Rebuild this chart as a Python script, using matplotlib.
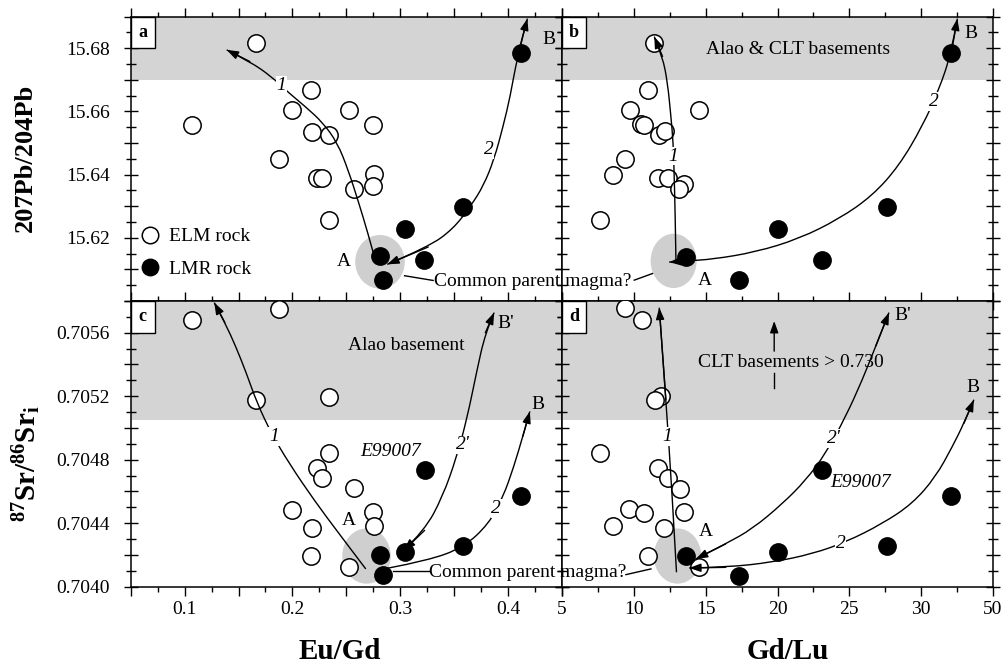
import matplotlib
matplotlib.use('Agg')
import matplotlib.pyplot as plt
from matplotlib.patches import Ellipse, Rectangle, PathPatch
from matplotlib.path import Path
from matplotlib.ticker import MultipleLocator, FuncFormatter

plt.rcParams['font.family'] = ['Liberation Serif', 'DejaVu Serif']
plt.rcParams['mathtext.fontset'] = 'custom'
plt.rcParams['mathtext.rm'] = 'Liberation Serif'
plt.rcParams['mathtext.bf'] = 'Liberation Serif:bold'
plt.rcParams['mathtext.it'] = 'Liberation Serif:italic'

# ---------------- DATA ----------------
# Panel a: Eu/Gd vs 207Pb/204Pb
a_elm_x = [0.166, 0.107, 0.217, 0.200, 0.252, 0.218, 0.234, 0.275, 0.188, 0.223, 0.227, 0.276, 0.275, 0.257, 0.234]
a_elm_y = [15.6816, 15.6558, 15.6667, 15.6604, 15.6604, 15.6536, 15.6525, 15.6558, 15.6449, 15.6388, 15.6388, 15.6401, 15.6365, 15.6356, 15.6258]
a_lmr_x = [0.412, 0.358, 0.304, 0.322, 0.281, 0.284]
a_lmr_y = [15.6784, 15.6297, 15.6228, 15.6129, 15.6142, 15.6066]

# Panel b: Gd/Lu vs 207Pb/204Pb
b_elm_x = [11.42, 10.96, 9.73, 14.55, 10.49, 10.73, 11.77, 12.19, 9.38, 8.57, 11.65, 12.35, 13.51, 13.16, 7.67]
b_elm_y = [15.6818, 15.6669, 15.6606, 15.6604, 15.6559, 15.6556, 15.6527, 15.6538, 15.6449, 15.6399, 15.6388, 15.6388, 15.6370, 15.6356, 15.6258]
b_lmr_x = [32.1, 27.6, 20.04, 23.13, 13.62, 17.29]
b_lmr_y = [15.6786, 15.6299, 15.6228, 15.6129, 15.6139, 15.6066]

# Panel c: Eu/Gd vs 87Sr/86Sr_i
c_elm_x = [0.107, 0.188, 0.166, 0.234, 0.234, 0.223, 0.227, 0.257, 0.200, 0.275, 0.218, 0.276, 0.217, 0.252]
c_elm_y = [0.705678, 0.705748, 0.705174, 0.705195, 0.704840, 0.704745, 0.704682, 0.704623, 0.704486, 0.704471, 0.704372, 0.704382, 0.704196, 0.704122]
c_lmr_x = [0.323, 0.412, 0.358, 0.304, 0.281, 0.284]
c_lmr_y = [0.704735, 0.704570, 0.704255, 0.704217, 0.704200, 0.704074]

# Panel d: Gd/Lu vs 87Sr/86Sr_i
d_elm_x = [9.40, 10.56, 11.88, 11.49, 7.67, 11.65, 12.35, 13.21, 9.64, 10.73, 13.51, 8.57, 12.12, 10.96, 14.55]
d_elm_y = [0.705754, 0.705678, 0.705199, 0.705174, 0.704840, 0.704745, 0.704682, 0.704618, 0.704488, 0.704466, 0.704471, 0.704382, 0.704372, 0.704192, 0.704122]
d_lmr_x = [23.13, 32.1, 27.6, 20.04, 13.62, 17.29]
d_lmr_y = [0.704735, 0.704570, 0.704255, 0.704217, 0.704196, 0.704070]

# Trend curves (hand-drawn paths in the original)
a_c1_x = [0.2757, 0.2697, 0.2614, 0.2515, 0.2416, 0.2284, 0.2118, 0.1969, 0.1804, 0.1605, 0.1390]
a_c1_y = [15.6144, 15.6218, 15.6312, 15.6417, 15.6501, 15.6564, 15.6616, 15.6658, 15.6711, 15.6758, 15.6795]
a_c2_x = [0.2879, 0.3259, 0.3491, 0.3656, 0.3772, 0.3871, 0.3954, 0.4020, 0.4086, 0.4179]
a_c2_y = [15.6116, 15.6171, 15.6228, 15.6302, 15.6365, 15.6449, 15.6553, 15.6648, 15.6774, 15.6894]

b_c1_x = [12.93, 12.88, 12.81, 12.74, 12.58, 12.35, 12.00, 11.42]
b_c1_y = [15.6129, 15.6270, 15.6396, 15.6501, 15.6585, 15.6690, 15.6774, 15.6837]
b_c2_x = [12.46, 13.62, 15.48, 18.49, 21.5, 24.29, 26.6, 28.46, 30.08, 31.24, 32.1, 32.52]
b_c2_y = [15.6123, 15.6127, 15.6132, 15.6155, 15.6197, 15.6260, 15.6333, 15.6428, 15.6553, 15.6669, 15.6786, 15.6894]

c_c1_x = [0.2680, 0.2432, 0.2201, 0.1969, 0.1804, 0.1672, 0.1572, 0.1473, 0.1374, 0.1275]
c_c1_y = [0.704112, 0.704334, 0.704545, 0.704777, 0.704967, 0.705157, 0.705347, 0.705516, 0.705663, 0.705790]
c_c2p_x = [0.3031, 0.3226, 0.3392, 0.3524, 0.3623, 0.3706, 0.3789, 0.3871]
c_c2p_y = [0.704228, 0.704355, 0.704566, 0.704819, 0.705072, 0.705347, 0.705600, 0.705727]
c_c2_x = [0.2879, 0.3259, 0.3590, 0.3822, 0.3954, 0.4053, 0.4136, 0.4202]
c_c2_y = [0.704116, 0.704165, 0.704249, 0.704397, 0.704566, 0.704756, 0.704946, 0.705104]

d_c1_x = [12.97, 12.65, 12.23, 11.77]
d_c1_y = [0.704091, 0.704608, 0.705178, 0.705758]
d_c2p_x = [14.32, 16.40, 18.26, 20.35, 21.97, 23.36, 24.75, 25.91, 26.84, 27.76]
d_c2p_y = [0.704175, 0.704270, 0.704365, 0.704523, 0.704671, 0.704840, 0.705072, 0.705304, 0.705516, 0.705727]
d_c2_x = [13.85, 16.40, 19.65, 22.43, 24.75, 27.30, 29.39, 31.01, 32.17, 32.98, 33.67]
d_c2_y = [0.704118, 0.704122, 0.704154, 0.704207, 0.704281, 0.704397, 0.704523, 0.704692, 0.704882, 0.705030, 0.705178]

x_ticks_right = [5, 10, 15, 20, 25, 30, 35]
x_ticklabels_right = ['5', '10', '15', '20', '25', '30', '50']

# ---------------- FIGURE ----------------
fig = plt.figure(figsize=(10.04, 6.65), dpi=100)
L, M, R = 130.7, 562.0, 993.0
T, MID, B = 16.7, 301.0, 586.7
W, H = 1004.0, 665.0
ax_a = fig.add_axes([L / W, 1 - MID / H, (M - L) / W, (MID - T) / H])
ax_b = fig.add_axes([M / W, 1 - MID / H, (R - M) / W, (MID - T) / H])
ax_c = fig.add_axes([L / W, 1 - B / H, (M - L) / W, (B - MID) / H])
ax_d = fig.add_axes([M / W, 1 - B / H, (R - M) / W, (B - MID) / H])

BAND = '#d4d4d4'
ELL = '#cfcfcf'
FS = 14
MS = 12.5


def style(ax, left_labels, bottom_labels):
    for s in ax.spines.values():
        s.set_linewidth(1.1)
    ax.tick_params(axis='x', which='both', direction='out', top=True, bottom=True,
                   labelbottom=bottom_labels, labeltop=False, labelsize=FS, pad=3.5, width=1.0)
    ax.tick_params(axis='x', which='major', length=6.5)
    ax.tick_params(axis='x', which='minor', length=3.6)
    ax.tick_params(axis='y', which='both', direction='inout', left=True, right=True,
                   labelleft=left_labels, labelright=False, labelsize=FS, pad=10, width=1.0)
    ax.tick_params(axis='y', which='major', length=10)
    ax.tick_params(axis='y', which='minor', length=7)


def fmt_eugd(v, pos):
    t = round(v * 10)
    if abs(v * 10 - t) < 1e-6 and 1 <= t <= 4:
        return f'{v:.1f}'
    return ''


def fmt_pb(v, pos):
    t = round(v * 100)
    if abs(v * 100 - t) < 1e-6 and t % 2 == 0 and 1562 <= t <= 1568:
        return f'{v:.2f}'
    return ''


def fmt_sr(v, pos):
    t = round(v * 10000)
    if abs(v * 10000 - t) < 1e-5 and t % 4 == 0:
        return f'{v:.4f}'
    return ''


def curve(ax, xs, ys, head_end=True, head_start=False):
    # smooth path: interior points act as quadratic Bezier control points
    n = len(xs)
    verts = [(xs[0], ys[0])]
    codes = [Path.MOVETO]
    if n <= 2:
        verts.append((xs[-1], ys[-1]))
        codes.append(Path.LINETO)
    else:
        for i in range(1, n - 1):
            if i < n - 2:
                end = ((xs[i] + xs[i + 1]) / 2, (ys[i] + ys[i + 1]) / 2)
            else:
                end = (xs[i + 1], ys[i + 1])
            verts += [(xs[i], ys[i]), end]
            codes += [Path.CURVE3, Path.CURVE3]
    ax.add_patch(PathPatch(Path(verts, codes), facecolor='none', edgecolor='k', lw=1.0, zorder=4))
    ap = dict(arrowstyle='-|>,head_length=0.7,head_width=0.25', color='k', lw=1.0,
              shrinkA=0, shrinkB=0, mutation_scale=10)
    if head_end:
        ax.annotate('', xy=(xs[-1], ys[-1]), xytext=(xs[-2], ys[-2]), arrowprops=ap, zorder=5)
    if head_start:
        ax.annotate('', xy=(xs[0], ys[0]), xytext=(xs[1], ys[1]), arrowprops=ap, zorder=5)


def curve_label(ax, x, y, s):
    ax.text(x, y, s, fontsize=FS, style='italic', ha='center', va='center', zorder=6,
            bbox=dict(facecolor='white', edgecolor='none', pad=0.6))


def panel_letter(ax, s):
    ax.add_patch(Rectangle((0, 1 - 31.6 / (ax.bbox.height)), 24 / ax.bbox.width, 31.6 / ax.bbox.height,
                           transform=ax.transAxes, facecolor='white', edgecolor='k', lw=1.0,
                           zorder=7, clip_on=False))
    ax.text(12 / ax.bbox.width, 1 - 15.8 / ax.bbox.height, s, transform=ax.transAxes,
            fontsize=13, fontweight='bold', ha='center', va='center', zorder=8)


def scatter(ax, ex, ey, lx, ly):
    h1, = ax.plot(ex, ey, 'o', ms=MS, mfc='white', mec='k', mew=1.1, ls='none', zorder=3)
    h2, = ax.plot(lx, ly, 'o', ms=MS, mfc='k', mec='k', mew=1.0, ls='none', zorder=3.5)
    return h1, h2


# ---- Panel a ----
ax = ax_a
ax.set_xlim(0.05, 0.45)
ax.set_ylim(15.60, 15.69)
ax.axhspan(15.67, 15.69, color=BAND, zorder=0, lw=0)
ax.add_patch(Ellipse((0.2812, 15.6124), 0.046, 0.0170, color=ELL, zorder=1, lw=0))
h_elm, h_lmr = scatter(ax, a_elm_x, a_elm_y, a_lmr_x, a_lmr_y)
curve(ax, a_c1_x, a_c1_y)
curve(ax, a_c2_x, a_c2_y, head_start=True)
curve_label(ax, 0.190, 15.6683, '1')
curve_label(ax, 0.382, 15.6480, '2')
ax.text(0.2475, 15.6124, 'A', fontsize=FS, ha='center', va='center')
ax.text(0.438, 15.6828, 'B', fontsize=FS, ha='center', va='center')
ax.plot([0.304, 0.3305], [15.6080, 15.6065], color='k', lw=1.0)
fig.text(0.3315, 15.6063, 'Common parent magma?', transform=ax.transData, fontsize=FS,
         ha='left', va='center')
ax.legend([h_elm, h_lmr], ['ELM rock', 'LMR rock'], loc='center left',
          bbox_to_anchor=(0.022, 0.170), frameon=False, fontsize=FS, handlelength=1.0,
          handletextpad=0.5, labelspacing=0.75, borderpad=0, borderaxespad=0, markerscale=0.95)
ax.xaxis.set_major_locator(MultipleLocator(0.05))
ax.xaxis.set_minor_locator(MultipleLocator(0.025))
ax.xaxis.set_major_formatter(FuncFormatter(fmt_eugd))
ax.yaxis.set_major_locator(MultipleLocator(0.01))
ax.yaxis.set_minor_locator(MultipleLocator(0.005))
ax.yaxis.set_major_formatter(FuncFormatter(fmt_pb))
style(ax, True, False)
panel_letter(ax, 'a')

# ---- Panel b ----
ax = ax_b
ax.set_xlim(5, 35)
ax.set_ylim(15.60, 15.69)
ax.axhspan(15.67, 15.69, color=BAND, zorder=0, lw=0)
ax.add_patch(Ellipse((12.77, 15.6127), 3.2, 0.0172, color=ELL, zorder=1, lw=0))
scatter(ax, b_elm_x, b_elm_y, b_lmr_x, b_lmr_y)
curve(ax, b_c1_x, b_c1_y)
curve(ax, b_c2_x, b_c2_y, head_start=True)
curve_label(ax, 12.74, 15.6459, '1')
curve_label(ax, 30.89, 15.6632, '2')
ax.text(21.46, 15.6795, 'Alao & CLT basements', fontsize=FS, ha='center', va='center')
ax.text(33.5, 15.6847, 'B', fontsize=FS, ha='center', va='center')
ax.text(14.94, 15.6066, 'A', fontsize=FS, ha='center', va='center')
ax.plot([10.03, 11.3], [15.6066, 15.6087], color='k', lw=1.0)
ax.set_xticks(x_ticks_right)
ax.set_xticklabels(x_ticklabels_right)
ax.xaxis.set_minor_locator(MultipleLocator(2.5))
ax.yaxis.set_major_locator(MultipleLocator(0.01))
ax.yaxis.set_minor_locator(MultipleLocator(0.005))
style(ax, False, False)
panel_letter(ax, 'b')

# ---- Panel c ----
ax = ax_c
ax.set_xlim(0.05, 0.45)
ax.set_ylim(0.7040, 0.7058)
ax.axhspan(0.70505, 0.7058, color=BAND, zorder=0, lw=0)
ax.add_patch(Ellipse((0.2687, 0.704193), 0.045, 0.000348, color=ELL, zorder=1, lw=0))
scatter(ax, c_elm_x, c_elm_y, c_lmr_x, c_lmr_y)
curve(ax, c_c1_x, c_c1_y)
curve(ax, c_c2p_x, c_c2p_y, head_start=True)
curve(ax, c_c2_x, c_c2_y)
curve_label(ax, 0.183, 0.704946, '1')
curve_label(ax, 0.358, 0.704893, "2'")
curve_label(ax, 0.389, 0.704492, '2')
ax.text(0.306, 0.70552, 'Alao basement', fontsize=FS, ha='center', va='center')
ax.text(0.398, 0.70566, "B'", fontsize=FS, ha='center', va='center')
ax.text(0.428, 0.705146, 'B', fontsize=FS, ha='center', va='center')
ax.text(0.291, 0.70485, 'E99007', fontsize=FS, style='italic', ha='center', va='center')
ax.text(0.252, 0.70442, 'A', fontsize=FS, ha='center', va='center')
ax.plot([0.2936, 0.3263], [0.704097, 0.704097], color='k', lw=1.0)
fig.text(0.3268, 0.704088, 'Common parent magma?', transform=ax.transData, fontsize=FS,
         ha='left', va='center')
ax.xaxis.set_major_locator(MultipleLocator(0.05))
ax.xaxis.set_minor_locator(MultipleLocator(0.025))
ax.xaxis.set_major_formatter(FuncFormatter(fmt_eugd))
ax.yaxis.set_major_locator(MultipleLocator(0.0002))
ax.yaxis.set_minor_locator(MultipleLocator(0.0001))
ax.yaxis.set_major_formatter(FuncFormatter(fmt_sr))
style(ax, True, True)
panel_letter(ax, 'c')

# ---- Panel d ----
ax = ax_d
ax.set_xlim(5, 35)
ax.set_ylim(0.7040, 0.7058)
ax.axhspan(0.70505, 0.7058, color=BAND, zorder=0, lw=0)
ax.add_patch(Ellipse((13.04, 0.704193), 3.3, 0.000348, color=ELL, zorder=1, lw=0))
scatter(ax, d_elm_x, d_elm_y, d_lmr_x, d_lmr_y)
curve(ax, d_c1_x, d_c1_y)
curve(ax, d_c2p_x, d_c2p_y, head_start=True)
curve(ax, d_c2_x, d_c2_y, head_start=True)
curve_label(ax, 12.3, 0.704946, '1')
curve_label(ax, 23.94, 0.704935, "2'")
curve_label(ax, 24.4, 0.704270, '2')
ax.text(20.93, 0.705414, 'CLT basements > 0.730', fontsize=FS, ha='center', va='center')
ax.annotate('', xy=(19.77, 0.705674), xytext=(19.77, 0.705484),
            arrowprops=dict(arrowstyle='-|>,head_length=0.7,head_width=0.25', color='k', lw=1.0,
                            shrinkA=0, shrinkB=0, mutation_scale=10))
ax.plot([19.77, 19.77], [0.705252, 0.705347], color='k', lw=1.0)
ax.text(28.69, 0.70571, "B'", fontsize=FS, ha='center', va='center')
ax.text(33.63, 0.705252, 'B', fontsize=FS, ha='center', va='center')
ax.text(25.79, 0.704654, 'E99007', fontsize=FS, style='italic', ha='center', va='center')
ax.text(15.01, 0.70435, 'A', fontsize=FS, ha='center', va='center')
ax.plot([9.45, 11.19], [0.704076, 0.704112], color='k', lw=1.0)
ax.set_xticks(x_ticks_right)
ax.set_xticklabels(x_ticklabels_right)
ax.xaxis.set_minor_locator(MultipleLocator(2.5))
ax.yaxis.set_major_locator(MultipleLocator(0.0002))
ax.yaxis.set_minor_locator(MultipleLocator(0.0001))
style(ax, False, True)
panel_letter(ax, 'd')

# ---- axis titles ----
fig.text(25.8 / W, 1 - 157.5 / H, '207Pb/204Pb', rotation=90, fontsize=19, fontweight='bold',
         ha='center', va='center')
fig.text(27 / W, 1 - 464 / H, r'$\mathbf{^{87}Sr/^{86}Sr_{i}}$', rotation=90, fontsize=21,
         ha='center', va='center')
fig.text(340 / W, 1 - 651.7 / H, 'Eu/Gd', fontsize=21, fontweight='bold', ha='center', va='center')
fig.text(788 / W, 1 - 651.7 / H, 'Gd/Lu', fontsize=21, fontweight='bold', ha='center', va='center')

fig.savefig('out.png', dpi=100)
